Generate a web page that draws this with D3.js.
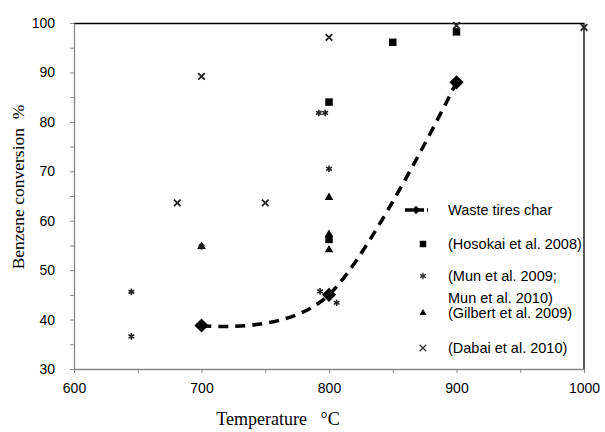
<!DOCTYPE html>
<html>
<head>
<meta charset="utf-8">
<script src="https://cdn.jsdelivr.net/npm/d3@7"></script>
<style>
  body { margin: 0; background: #fff; }
  svg { display: block; }
  .tick text { font-family: "Liberation Sans", Arial, sans-serif; font-size: 14px; fill: #000; }
</style>
</head>
<body>
<svg id="chart" width="605" height="432"></svg>
<script>
// Waste tires char (dashed smoothed line)
var wasteT = [700, 800, 900]
var wasteV = [38.8, 45, 88]
// Hosokai et al. 2008
var hosokaiT = [800, 800, 850, 900]
var hosokaiV = [56.2, 84, 96.1, 98.2]
// Mun et al. 2009; Mun et al. 2010
var munT = [645, 645, 700, 792, 797, 800, 793, 806]
var munV = [45.6, 36.6, 54.8, 81.8, 81.8, 70.5, 45.7, 43.4]
// Gilbert et al. 2009
var gilbertT = [700, 800, 800, 800]
var gilbertV = [54.8, 64.7, 57.2, 54.1]
// Dabai et al. 2010
var dabaiT = [681, 750, 700, 800, 900, 1000]
var dabaiV = [63.6, 63.6, 89.2, 97.1, 99.5, 99.1]

var xTicks = [600, 700, 800, 900, 1000]
var yTicks = [30, 40, 50, 60, 70, 80, 90, 100]
var legendLabels = ['Waste tires char', '(Hosokai et al. 2008)', '(Mun et al. 2009;|Mun et al. 2010)', '(Gilbert et al. 2009)', '(Dabai et al. 2010)']

var margin = {top: 23, right: 21, bottom: 63, left: 74}
var width = 605 - margin.left - margin.right
var height = 432 - margin.top - margin.bottom

var svg = d3.select('#chart')
var g = svg.append('g')
  .attr('transform', 'translate(' + margin.left + ',' + margin.top + ')')

var x = d3.scaleLinear().domain([600, 1000]).range([0, width])
var y = d3.scaleLinear().domain([30, 100]).range([height, 0])

// frame top / right in black
g.append('line').attr('x1', 0).attr('x2', width).attr('y1', 0.5).attr('y2', 0.5)
  .attr('stroke', '#000').attr('stroke-width', 1.3)
g.append('line').attr('x1', width).attr('x2', width).attr('y1', 0).attr('y2', height)
  .attr('stroke', '#000').attr('stroke-width', 1.3)

// minor ticks
var yMinor = d3.axisLeft(y).tickValues(d3.range(35, 100, 10)).tickSize(4).tickFormat('')
var xMinor = d3.axisBottom(x).tickValues(d3.range(650, 1000, 100)).tickSize(4).tickFormat('')
g.append('g').call(yMinor).call(function (s) { s.select('.domain').remove(); s.selectAll('line').attr('stroke', '#888') })
g.append('g').attr('transform', 'translate(0,' + height + ')').call(xMinor)
  .call(function (s) { s.select('.domain').remove(); s.selectAll('line').attr('stroke', '#888') })

// axes
var yAxisG = g.append('g').call(d3.axisLeft(y).tickValues(yTicks).tickSize(4).tickSizeOuter(0).tickPadding(15))
yAxisG.select('.domain').attr('stroke', '#888').attr('stroke-width', 1.3)
yAxisG.selectAll('.tick line').attr('stroke', '#888')

var xAxisG = g.append('g').attr('transform', 'translate(0,' + height + ')')
  .call(d3.axisBottom(x).tickValues(xTicks).tickFormat(d3.format('d')).tickSize(4).tickSizeOuter(0).tickPadding(10))
xAxisG.select('.domain').attr('stroke', '#888').attr('stroke-width', 1.3)
xAxisG.selectAll('.tick line').attr('stroke', '#888')

// axis titles
svg.append('text')
  .attr('transform', 'translate(24,187) rotate(-90)')
  .attr('text-anchor', 'middle')
  .style('font-family', '"Liberation Serif", "Times New Roman", serif')
  .style('font-size', '17.5px')
  .style('white-space', 'pre')
  .text('Benzene conversion  %')
svg.append('text')
  .attr('x', 278).attr('y', 425)
  .attr('text-anchor', 'middle')
  .style('font-family', '"Liberation Serif", "Times New Roman", serif')
  .style('font-size', '18px')
  .style('white-space', 'pre')
  .text('Temperature   \u00B0C')

function pts (ts, vs) {
  return ts.map(function (t, i) { return {t: t, v: vs[i]} })
}

var sq = d3.symbol().type(d3.symbolSquare).size(56)
var tri = d3.symbol().type(d3.symbolTriangle).size(32)
var star = d3.symbol().type(d3.symbolAsterisk).size(30)
var cross = d3.symbol().type(d3.symbolX).size(30)
var diamond = d3.symbol().type(d3.symbolSquare).size(100)

// scatter series
g.selectAll('.hosokai').data(pts(hosokaiT, hosokaiV)).enter().append('path')
  .attr('transform', function (d) { return 'translate(' + x(d.t) + ',' + y(d.v) + ')' })
  .attr('d', sq).attr('fill', '#000')
g.selectAll('.gilbert').data(pts(gilbertT, gilbertV)).enter().append('path')
  .attr('transform', function (d) { return 'translate(' + x(d.t) + ',' + y(d.v) + ')' })
  .attr('d', tri).attr('fill', '#000')
g.selectAll('.mun').data(pts(munT, munV)).enter().append('path')
  .attr('transform', function (d) { return 'translate(' + x(d.t) + ',' + y(d.v) + ')' })
  .attr('d', star).attr('fill', 'none').attr('stroke', '#222').attr('stroke-width', 1.6)
g.selectAll('.dabai').data(pts(dabaiT, dabaiV)).enter().append('path')
  .attr('transform', function (d) { return 'translate(' + x(d.t) + ',' + y(d.v) + ')' })
  .attr('d', cross).attr('fill', 'none').attr('stroke', '#222').attr('stroke-width', 1.8)

// waste tires char line (Excel style smoothing)
var lineGen = d3.line()
  .x(function (d) { return x(d.t) })
  .y(function (d) { return y(d.v) })
  .curve(d3.curveCardinal.tension(0))
g.append('path')
  .attr('d', lineGen(pts(wasteT, wasteV)))
  .attr('fill', 'none').attr('stroke', '#000')
  .attr('stroke-width', 3.5).attr('stroke-dasharray', '10,7')
g.selectAll('.waste').data(pts(wasteT, wasteV)).enter().append('path')
  .attr('transform', function (d) { return 'translate(' + x(d.t) + ',' + y(d.v) + ') rotate(45)' })
  .attr('d', diamond).attr('fill', '#000')

// legend
var lg = svg.append('g')
var rows = [210, 244, 276, 313, 348]
var mx = 423
lg.append('line').attr('x1', 405).attr('x2', 428).attr('y1', rows[0]).attr('y2', rows[0])
  .attr('stroke', '#000').attr('stroke-width', 3.5).attr('stroke-dasharray', '8,3')
lg.append('path').attr('transform', 'translate(416,' + rows[0] + ') rotate(45)')
  .attr('d', d3.symbol().type(d3.symbolSquare).size(36)).attr('fill', '#000')
lg.append('path').attr('transform', 'translate(' + mx + ',' + rows[1] + ')').attr('d', d3.symbol().type(d3.symbolSquare).size(42)).attr('fill', '#000')
lg.append('path').attr('transform', 'translate(' + mx + ',' + rows[2] + ')').attr('d', star).attr('fill', 'none').attr('stroke', '#333').attr('stroke-width', 1.3)
lg.append('path').attr('transform', 'translate(' + mx + ',' + rows[3] + ')').attr('d', d3.symbol().type(d3.symbolTriangle).size(22)).attr('fill', '#000')
lg.append('path').attr('transform', 'translate(' + mx + ',' + rows[4] + ')').attr('d', cross).attr('fill', 'none').attr('stroke', '#333').attr('stroke-width', 1.3)

legendLabels.forEach(function (lab, i) {
  var t = lg.append('text')
    .attr('x', 448).attr('y', rows[i])
    .style('font-family', '"Liberation Sans", Arial, sans-serif')
    .style('font-size', '14.5px')
  lab.split('|').forEach(function (part, j) {
    t.append('tspan').attr('x', 448).attr('dy', j === 0 ? '0.35em' : '22px').text(part)
  })
})
</script>
</body>
</html>
